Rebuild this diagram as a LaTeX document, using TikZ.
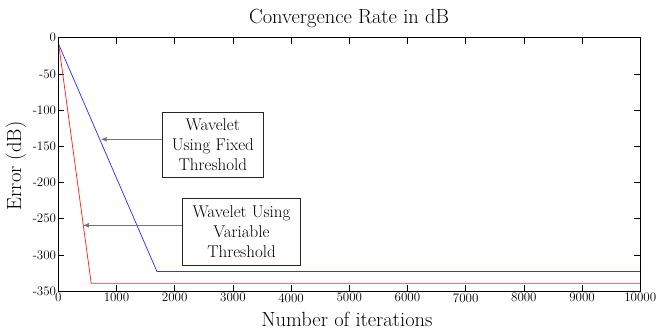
\documentclass[tikz,border=0pt]{standalone}
\usepackage{tikz}
\usetikzlibrary{arrows,positioning}

\begin{document}
\begin{tikzpicture}
	[x=1pt,y=-1pt,>=stealth',
	frame/.style={draw=black,line width=0.8pt},
	tick/.style={draw=black,line width=0.6pt},
	ticklabel/.style={font=\fontsize{13}{13}\selectfont,inner sep=2pt},
	axislabel/.style={font=\fontsize{20.5}{22}\selectfont},
	note/.style={draw=black!85,fill=white,line width=0.7pt,align=center,inner sep=0pt,font=\fontsize{17}{20}\selectfont},
	pointer/.style={->,draw=black!55,line width=0.9pt},
	fixedcurve/.style={draw=blue!80,line width=0.75pt},
	varcurve/.style={draw=red!85,line width=0.75pt}]

	\useasboundingbox (0,0) rectangle (657,331);

	% plot area, in iterations and dB
	\begin{scope}[shift={(58.3,37.7)},x=0.0582pt,y=0.724pt]
		\foreach \k in {1000,2000,...,9000} {
			\draw[tick] (\k,0) -- ++(0,-8.5);
			\draw[tick] (\k,-350) -- ++(0,8.5);
		}
		\foreach \v in {-50,-100,...,-300} {
			\draw[tick] (0,\v) -- ++(100,0);
			\draw[tick] (10000,\v) -- ++(-100,0);
		}
		\foreach \k in {0,1000,...,10000}
			\node[ticklabel,below] (xl\k) at (\k,-350) {\k};
		\foreach \v in {0,-50,...,-350}
			\node[ticklabel,left] (yl\v) at (0,\v) {\v};

		\draw[fixedcurve] (0,-8) -- (1695,-323) -- (10000,-323);
		\draw[varcurve] (0,-5) -- (565,-339) -- (10000,-339);

		\draw[frame] (0,0) rectangle (10000,-350);
	\end{scope}

	\node[axislabel] (title) at (349,18) {Convergence Rate in dB};
	\node[axislabel] (xlabel) at (347,319) {Number of iterations};
	\node[axislabel,rotate=90] (ylabel) at (16,166) {Error (dB)};

	\node[note,minimum width=101pt,minimum height=65pt] (fixed) at (212.8,144.8)
		{Wavelet\\Using Fixed\\Threshold};
	\node[note,minimum width=118pt,minimum height=66.5pt] (variable) at (241.5,231.7)
		{Wavelet Using\\Variable\\Threshold};

	\coordinate (fixedtip) at (101.7,139.3);
	\coordinate (vartip) at (84,225.3);
	\draw[pointer] (fixed.west |- fixedtip) -- (fixedtip);
	\draw[pointer] (variable.west |- vartip) -- (vartip);

\end{tikzpicture}
\end{document}
